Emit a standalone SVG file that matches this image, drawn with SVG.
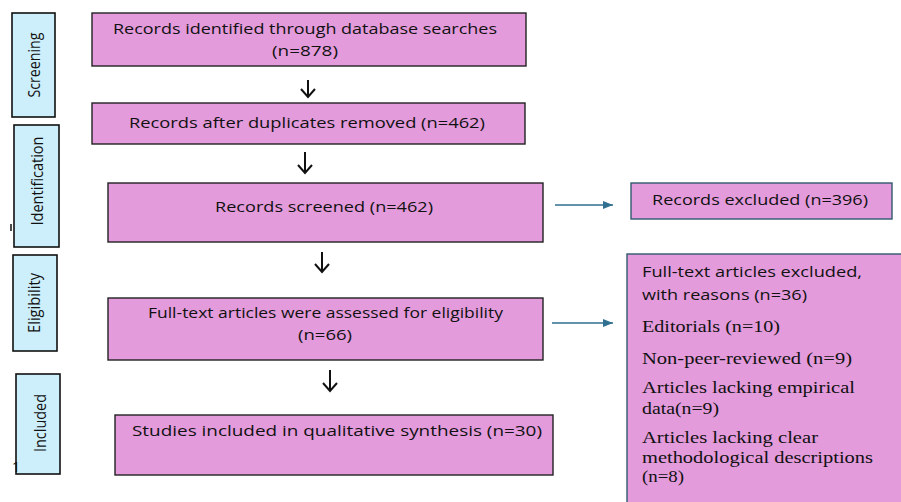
<svg xmlns="http://www.w3.org/2000/svg" width="901" height="502" viewBox="0 0 901 502">
<style>
.stage{fill:#cdeefb;stroke:#111;stroke-width:1.6}
.box{fill:#e39bdb;stroke:#222;stroke-width:1.4}
.xbox{fill:#e39bdb;stroke:#2f5a70;stroke-width:1.4}
.t{font-family:"Open Sans","Liberation Sans",sans-serif;font-size:14px;fill:#111}
.s{font-family:"Liberation Serif","Times New Roman",serif;font-size:16px;fill:#111}
.st{font-family:"Open Sans","Liberation Sans",sans-serif;font-size:17px;fill:#111}
.down{fill:none;stroke:#111;stroke-width:2}
.side{fill:none;stroke:#2f6f8f;stroke-width:1.4}
</style>
<defs>
<marker id="ah" viewBox="0 0 10 8" refX="10" refY="4" markerWidth="10" markerHeight="8" markerUnits="userSpaceOnUse" orient="auto"><path d="M0,0 L10,4 L0,8 z" fill="#2f6f8f"/></marker>
</defs>
<g id="stage-screening"><rect class="stage" x="12" y="13" width="43" height="104"/><text class="st" transform="translate(40,65) rotate(-90)" text-anchor="middle" textLength="65" lengthAdjust="spacingAndGlyphs">Screening</text></g>
<g id="stage-identification"><rect class="stage" x="14" y="125" width="45" height="122"/><line x1="11" y1="224" x2="11" y2="231" stroke="#111" stroke-width="1.5"/><text class="st" transform="translate(43,181) rotate(-90)" text-anchor="middle" textLength="89" lengthAdjust="spacingAndGlyphs">Identification</text></g>
<g id="stage-eligibility"><rect class="stage" x="13" y="255" width="44" height="96"/><text class="st" transform="translate(40,303) rotate(-90)" text-anchor="middle" textLength="60" lengthAdjust="spacingAndGlyphs">Eligibility</text></g>
<g id="stage-included"><rect class="stage" x="16" y="374" width="44" height="100"/><text class="st" transform="translate(46,423) rotate(-90)" text-anchor="middle" textLength="58" lengthAdjust="spacingAndGlyphs">Included</text><text class="t" x="12" y="472">1</text></g>
<g id="n1"><rect class="box" x="92" y="13" width="434" height="53"/><text class="t" x="113" y="34" textLength="384" lengthAdjust="spacingAndGlyphs">Records identified through database searches</text><text class="t" x="272" y="56" textLength="66" lengthAdjust="spacingAndGlyphs">(n=878)</text></g>
<g id="n2"><rect class="box" x="92" y="103" width="433" height="41"/><text class="t" x="129" y="128" textLength="356" lengthAdjust="spacingAndGlyphs">Records after duplicates removed (n=462)</text></g>
<g id="n3"><rect class="box" x="108" y="183" width="435" height="59"/><text class="t" x="215" y="212" textLength="218" lengthAdjust="spacingAndGlyphs">Records screened (n=462)</text></g>
<g id="n3x"><rect class="xbox" x="631" y="183" width="261" height="36"/><text class="t" x="652" y="205" textLength="216" lengthAdjust="spacingAndGlyphs">Records excluded (n=396)</text></g>
<g id="n4"><rect class="box" x="108" y="298" width="435" height="62"/><text class="t" x="148" y="318" textLength="355" lengthAdjust="spacingAndGlyphs">Full-text articles were assessed for eligibility</text><text class="t" x="298" y="340" textLength="54" lengthAdjust="spacingAndGlyphs">(n=66)</text></g>
<g id="n4x"><rect class="xbox" x="627" y="254" width="280" height="260"/>
<text class="t" x="642" y="277" textLength="220" lengthAdjust="spacingAndGlyphs">Full-text articles excluded,</text>
<text class="t" x="642" y="300" textLength="165" lengthAdjust="spacingAndGlyphs">with reasons (n=36)</text>
<text class="s" x="642" y="332" textLength="138" lengthAdjust="spacingAndGlyphs">Editorials (n=10)</text>
<text class="s" x="642" y="364" textLength="210" lengthAdjust="spacingAndGlyphs">Non-peer-reviewed (n=9)</text>
<text class="s" x="642" y="393" textLength="213" lengthAdjust="spacingAndGlyphs">Articles lacking empirical</text>
<text class="s" x="642" y="414" textLength="77" lengthAdjust="spacingAndGlyphs">data(n=9)</text>
<text class="s" x="642" y="443" textLength="176" lengthAdjust="spacingAndGlyphs">Articles lacking clear</text>
<text class="s" x="642" y="463" textLength="231" lengthAdjust="spacingAndGlyphs">methodological descriptions</text>
<text class="s" x="642" y="482" textLength="42" lengthAdjust="spacingAndGlyphs">(n=8)</text>
</g>
<g id="n5"><rect class="box" x="115" y="415" width="438" height="60"/><text class="t" x="132" y="436" textLength="410" lengthAdjust="spacingAndGlyphs">Studies included in qualitative synthesis (n=30)</text></g>
<g id="connectors">
<path class="down" d="M308,80 V97 M301,89 L308,97 L315,89"/>
<path class="down" d="M305,152 V172 M298,165 L305,173 L312,165"/>
<path class="down" d="M322,252 V272 M315,264 L322,272 L329,264"/>
<path class="down" d="M330,370 V391 M323,383 L330,391 L337,383"/>
<line class="side" x1="555" y1="205" x2="613" y2="205" marker-end="url(#ah)"/>
<line class="side" x1="552" y1="323" x2="613" y2="323" marker-end="url(#ah)"/>
</g>
</svg>
